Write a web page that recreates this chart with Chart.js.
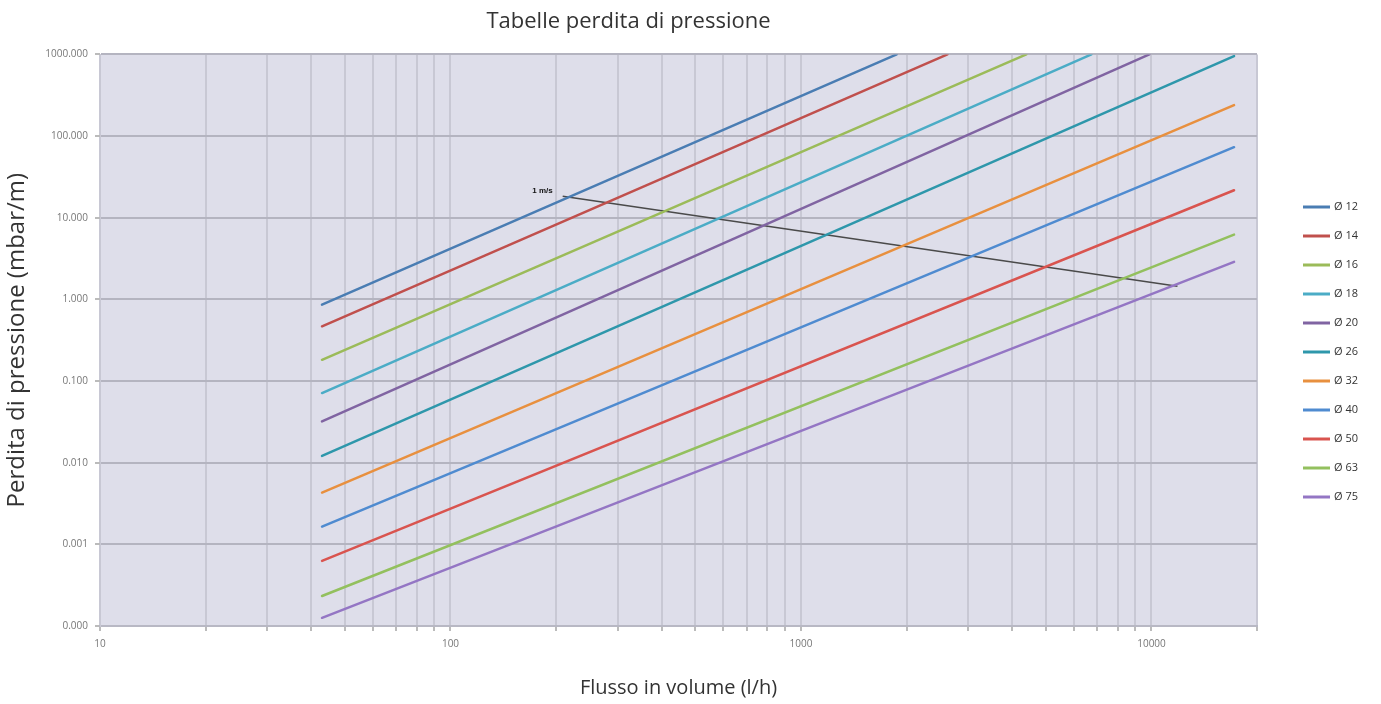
<!DOCTYPE html>
<html>
<head>
<meta charset="utf-8">
<script src="https://cdn.jsdelivr.net/npm/chart.js@4.4.1/dist/chart.umd.min.js"></script>
<style>
html,body{margin:0;padding:0;background:#fff;}
#wrap{width:1381px;height:704px;}
</style>
</head>
<body>
<div id="wrap"><canvas id="c" width="1381" height="704"></canvas></div>
<script>
// ---- data ----
const seriesLabels = ['Ø 12','Ø 14','Ø 16','Ø 18','Ø 20','Ø 26','Ø 32','Ø 40','Ø 50','Ø 63','Ø 75'];
const seriesColors = ['#4a7db3','#c0504d','#9bbb59','#4bacc6','#8064a2','#2e97ab','#e8903f','#4f8bd0','#d9544f','#93c05e','#9476c4'];
const startFlow = [43, 43, 43, 43, 43, 43, 43, 43, 43, 43, 43];            // l/h
const startLoss = [0.86, 0.467, 0.182, 0.0713, 0.032, 0.0121, 0.0043, 0.00165, 0.000627, 0.000233, 0.000126]; // mbar/m
const endFlow   = [1875, 2618, 4395, 6740, 9860, 17200, 17200, 17200, 17200, 17200, 17200];
const endLoss   = [1000, 1000, 1000, 1000, 1000, 953, 239, 73, 21.7, 6.2, 2.88];
const velocityLabel = '1 m/s';
const velocityFlow = [209, 11860];
const velocityLoss = [18.3, 1.45];
const xDecades = [10, 100, 1000, 10000];
const xMultipliers = [1,2,3,4,5,6,7,8,9];
const xMax = 20000;
const yTickValues = [0.0001, 0.001, 0.01, 0.1, 1, 10, 100, 1000];

const datasets = seriesLabels.map((lab, i) => ({
  label: lab,
  data: [{x: startFlow[i], y: startLoss[i]}, {x: endFlow[i], y: endLoss[i]}],
  borderColor: seriesColors[i],
  backgroundColor: seriesColors[i],
  borderWidth: 2.5,
  pointRadius: 0,
  borderCapStyle: 'round',
  fill: false
}));
datasets.push({
  label: velocityLabel,
  data: velocityFlow.map((f, i) => ({x: f, y: velocityLoss[i]})),
  borderColor: '#4a4a4a',
  backgroundColor: '#4a4a4a',
  borderWidth: 1.5,
  pointRadius: 0,
  fill: false,
  isVelocity: true
});

const xTickList = [];
xDecades.forEach(d => xMultipliers.forEach(m => { if (d * m <= xMax) xTickList.push(d * m); }));

const bgPlugin = {
  id: 'bg',
  beforeDraw(chart) {
    const {ctx, chartArea: a} = chart;
    ctx.save();
    ctx.fillStyle = '#dedeea';
    ctx.fillRect(a.left, a.top, a.right - a.left, a.bottom - a.top);
    ctx.restore();
  }
};

const legendPlugin = {
  id: 'customLegend',
  afterDraw(chart) {
    const ctx = chart.ctx;
    ctx.save();
    ctx.font = '11px "Open Sans", sans-serif';
    ctx.textBaseline = 'middle';
    ctx.textAlign = 'left';
    chart.data.datasets.forEach((ds, i) => {
      if (ds.isVelocity) return;
      const y = 207 + i * 29;
      ctx.strokeStyle = ds.borderColor;
      ctx.lineWidth = 3;
      ctx.beginPath();
      ctx.moveTo(1303, y);
      ctx.lineTo(1330, y);
      ctx.stroke();
      ctx.fillStyle = '#333';
      ctx.fillText(ds.label, 1334, y);
    });
    ctx.restore();
  }
};

const velLabelPlugin = {
  id: 'velLabel',
  afterDatasetsDraw(chart) {
    const idx = chart.data.datasets.findIndex(d => d.isVelocity);
    const meta = chart.getDatasetMeta(idx);
    const p = meta.data[0];
    const ctx = chart.ctx;
    ctx.save();
    ctx.font = 'bold 8px "Liberation Sans", Arial, sans-serif';
    ctx.fillStyle = '#111';
    ctx.textAlign = 'right';
    ctx.textBaseline = 'middle';
    ctx.fillText(chart.data.datasets[idx].label, p.x - 10, p.y - 5);
    ctx.restore();
  }
};

new Chart(document.getElementById('c'), {
  type: 'line',
  data: { datasets },
  options: {
    responsive: false,
    animation: false,
    layout: { padding: { left: 0, right: 124, top: 0, bottom: 0 } },
    plugins: {
      legend: { display: false },
      tooltip: { enabled: false },
      title: {
        display: true,
        text: 'Tabelle perdita di pressione',
        color: '#333',
        font: { family: '"Open Sans", sans-serif', size: 22, weight: 'normal' },
        padding: { top: 9, bottom: 19 }
      }
    },
    scales: {
      x: {
        type: 'logarithmic',
        min: 10,
        max: xMax,
        afterBuildTicks(scale) { scale.ticks = xTickList.map(v => ({value: v})); },
        afterFit(scale) { scale.height = 78; },
        ticks: {
          autoSkip: false,
          maxRotation: 0,
          color: '#777',
          font: { family: '"Open Sans", sans-serif', size: 10 },
          padding: 7,
          callback(v) { return xDecades.includes(v) ? String(v) : ''; }
        },
        grid: {
          color: '#c8c8d4',
          lineWidth: 2,
          drawTicks: true,
          tickLength: 5,
          tickColor: '#bbb'
        },
        border: { display: true, color: '#b8b8c4', width: 2 },
        title: {
          display: true,
          text: 'Flusso in volume (l/h)',
          color: '#333',
          font: { family: '"Open Sans", sans-serif', size: 20 },
          padding: { top: 0, bottom: 4 }
        }
      },
      y: {
        type: 'logarithmic',
        min: 0.0001,
        max: 1000,
        afterBuildTicks(scale) { scale.ticks = yTickValues.map(v => ({value: v})); },
        afterFit(scale) { scale.width = 100; },
        ticks: {
          autoSkip: false,
          color: '#777',
          font: { family: '"Open Sans", sans-serif', size: 10 },
          padding: 7,
          callback(v) { return Number(v).toFixed(3); }
        },
        grid: {
          color: '#b4b4c0',
          lineWidth: 2,
          drawTicks: true,
          tickLength: 5,
          tickColor: '#bbb'
        },
        border: { display: true, color: '#c8c8d4', width: 1 },
        title: {
          display: true,
          text: 'Perdita di pressione (mbar/m)',
          color: '#333',
          font: { family: '"Open Sans", sans-serif', size: 24 },
          padding: { top: 3, bottom: 4 }
        }
      }
    }
  },
  plugins: [bgPlugin, legendPlugin, velLabelPlugin]
});
</script>
</body>
</html>
